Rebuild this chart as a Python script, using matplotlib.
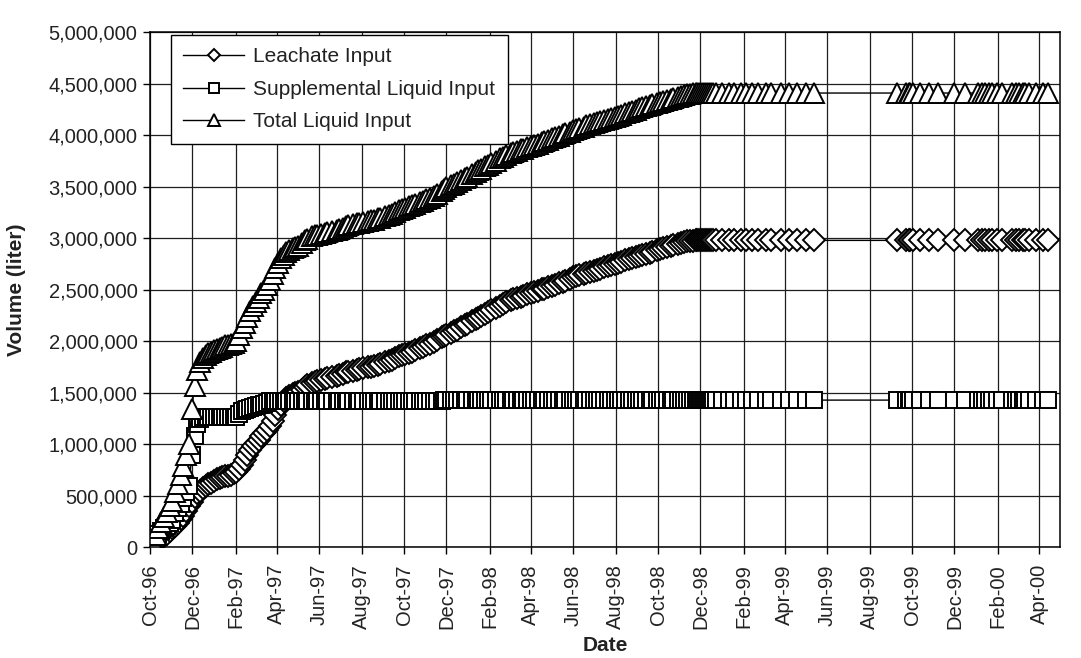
import numpy as np
import matplotlib.pyplot as plt
import matplotlib.dates as mdates
from matplotlib.ticker import MultipleLocator, FuncFormatter

plt.rcParams['font.family'] = ['Liberation Sans', 'DejaVu Sans']

# sampling days, counted from 1 Oct 1996
early_days = [0, 4, 8, 12, 16, 20, 24, 28, 32, 36, 40, 44, 48, 52, 56, 60, 64,
              68, 72, 76, 80, 84, 88, 92, 96, 100, 104, 108, 112, 116, 120,
              124, 128, 132, 136, 140, 144, 148, 152, 156, 160, 164, 168, 172,
              176, 180, 184, 188, 192, 196, 200]
mid_days = [205, 209, 212, 218, 223, 226, 233, 237, 240, 246, 252, 255, 262,
            268, 271, 277, 281, 285, 292, 297, 300, 306, 313, 317, 322, 328,
            331, 337, 343, 347, 352, 358, 362, 366, 372, 376, 381, 388, 392,
            396, 402, 408, 412, 419,
            422, 426, 432, 437, 441, 447, 453, 456, 462, 468, 471, 476, 482,
            486, 490, 497, 503, 507, 512, 518, 521, 527, 533, 536, 542, 548,
            552, 557, 563, 566, 572, 578, 582, 587, 593, 597, 603, 608, 612,
            617, 623, 627, 632, 638, 643, 647, 653, 658, 662, 668, 673, 677,
            683, 688, 692, 698, 703, 707, 713, 718, 722, 728, 733, 737, 743,
            748, 752, 758, 763, 767, 772, 776, 780]
late_days = [784, 786, 789, 792, 794, 797, 800, 803, 806, 809, 813, 822, 832,
             839, 849, 856, 865, 873, 885, 892, 906, 918, 930, 942, 954,
             1073, 1087, 1090, 1092, 1097, 1107, 1119, 1133,
             1156, 1171, 1190, 1195, 1200, 1205, 1210, 1217, 1224, 1239, 1244,
             1249, 1254, 1258, 1263, 1273, 1283, 1290]

# cumulative volumes, thousands of liters
leachate_early = [0, 15, 35, 60, 85, 110, 135, 160, 185, 210, 240, 275, 310,
                  355, 400, 440, 490, 525, 550, 575, 600, 615, 630, 645, 660,
                  670, 680, 690, 698, 706, 718, 735, 765, 805, 850, 895, 945,
                  985, 1015, 1045, 1080, 1110, 1140, 1180, 1230, 1290, 1340,
                  1385, 1420, 1450, 1470]
leachate_mid = [1490, 1500, 1510, 1530, 1560, 1575, 1600, 1610, 1615, 1625,
                1635, 1640, 1650, 1660, 1670, 1685, 1700, 1705, 1715, 1725,
                1730, 1740, 1750, 1755, 1760, 1775, 1780, 1795, 1810, 1820,
                1835, 1855, 1865, 1875, 1890, 1900, 1915, 1935, 1945, 1960,
                1975, 1995, 2010, 2040,
                2050, 2065, 2085, 2100, 2115, 2135, 2155, 2165, 2195, 2215,
                2230, 2245, 2270, 2285, 2300, 2325, 2345, 2360, 2380, 2400,
                2410, 2420, 2435, 2440, 2455, 2470, 2480, 2490, 2505, 2510,
                2525, 2540, 2550, 2565, 2580, 2590, 2605, 2620, 2630, 2640,
                2655, 2665, 2675, 2685, 2695, 2705, 2720, 2730, 2740, 2750,
                2760, 2770, 2785, 2795, 2805, 2820, 2830, 2840, 2850, 2860,
                2870, 2885, 2895, 2905, 2915, 2925, 2935, 2945, 2955, 2962,
                2970, 2975, 2978]
leachate_late = [2980, 2980, 2980, 2980, 2980, 2980, 2980, 2980, 2980, 2980,
                 2980, 2980, 2980, 2980, 2980, 2980, 2980, 2980, 2980, 2980,
                 2980, 2980, 2980, 2980, 2980,
                 2980, 2980, 2980, 2980, 2980, 2980, 2980, 2980,
                 2980, 2980, 2980, 2980, 2980, 2980, 2980, 2980, 2980, 2980,
                 2980, 2980, 2980, 2980, 2980, 2980, 2980, 2980]

supplemental_early = [0, 40, 85, 130, 160, 185, 210, 240, 270, 330, 380, 425,
                      480, 540, 600, 900, 1080, 1200, 1250, 1265, 1270, 1270,
                      1270, 1270, 1270, 1270, 1270, 1270, 1270, 1270, 1270,
                      1270, 1300, 1320, 1330, 1340, 1350, 1360, 1370, 1380,
                      1385, 1390, 1405, 1420, 1420, 1420, 1420, 1420, 1420,
                      1420, 1420]
supplemental_mid = [1420, 1420, 1420, 1420, 1420, 1420, 1420, 1420, 1420, 1420,
                    1420, 1420, 1420, 1420, 1420, 1420, 1420, 1420, 1420, 1420,
                    1420, 1420, 1420, 1420, 1420, 1420, 1420, 1420, 1420, 1420,
                    1420, 1420, 1420, 1420, 1420, 1420, 1420, 1420, 1420, 1420,
                    1420, 1420, 1420, 1420,
                    1430, 1430, 1430, 1430, 1430, 1430, 1430, 1430, 1430, 1430,
                    1430, 1430, 1430, 1430, 1430, 1430, 1430, 1430, 1430, 1430,
                    1430, 1430, 1430, 1430, 1430, 1430, 1430, 1430, 1430, 1430,
                    1430, 1430, 1430, 1430, 1430, 1430, 1430, 1430, 1430, 1430,
                    1430, 1430, 1430, 1430, 1430, 1430, 1430, 1430, 1430, 1430,
                    1430, 1430, 1430, 1430, 1430, 1430, 1430, 1430, 1430, 1430,
                    1430, 1430, 1430, 1430, 1430, 1430, 1430, 1430, 1430, 1430,
                    1430, 1430, 1430]
supplemental_late = [1430, 1430, 1430, 1430, 1430, 1430, 1430, 1430, 1430,
                     1430, 1430, 1430, 1430, 1430, 1430, 1430, 1430, 1430,
                     1430, 1430, 1430, 1430, 1430, 1430, 1430,
                     1430, 1430, 1430, 1430, 1430, 1430, 1430, 1430,
                     1430, 1430, 1430, 1430, 1430, 1430, 1430, 1430, 1430,
                     1430, 1430, 1430, 1430, 1430, 1430, 1430, 1430, 1430]

start = np.datetime64('1996-10-01')
days = np.array(early_days + mid_days + late_days)
dates = start + days.astype('timedelta64[D]')
leachate = np.array(leachate_early + leachate_mid + leachate_late) * 1000.0
supplemental = np.array(supplemental_early + supplemental_mid
                        + supplemental_late) * 1000.0
total = leachate + supplemental

fig = plt.figure(figsize=(10.81, 6.58), dpi=100)
ax = fig.add_axes([0.1388, 0.168, 0.842, 0.783])

style = dict(color='black', lw=1.0, mfc='white', mec='black', mew=1.4)
ax.plot(dates, leachate, marker='D', ms=11, label='Leachate Input', **style)
ax.plot(dates, supplemental, marker='s', ms=12, label='Supplemental Liquid Input', **style)
ax.plot(dates, total, marker='^', ms=15, label='Total Liquid Input', **style)

ax.set_xlim(np.datetime64('1996-10-01'), np.datetime64('2000-05-01'))
ax.set_ylim(0, 5000000)
ax.xaxis.set_major_locator(mdates.MonthLocator(bymonth=[2, 4, 6, 8, 10, 12]))
ax.xaxis.set_major_formatter(mdates.DateFormatter('%b-%y'))
ax.yaxis.set_major_locator(MultipleLocator(500000))
ax.yaxis.set_major_formatter(FuncFormatter(lambda v, p: f'{v:,.0f}'))

ax.grid(True, color='#1e1e1e', lw=0.9)
ax.set_axisbelow(True)
for s in ax.spines.values():
    s.set_color('black')
    s.set_linewidth(1.1)
ax.tick_params(direction='out', length=5, width=1, labelsize=14.5,
               labelcolor='#222222')
ax.tick_params(axis='x', pad=7)
ax.tick_params(axis='y', pad=4)
for lab in ax.get_xticklabels():
    lab.set_rotation(90)

ax.set_xlabel('Date', fontsize=15, fontweight='bold', color='#222222', labelpad=5)
ax.set_ylabel('Volume (liter)', fontsize=15, fontweight='bold', color='#222222',
              labelpad=16)

leg = ax.legend(loc='upper left', bbox_to_anchor=(0.023, 0.995),
                borderaxespad=0, fontsize=15, handlelength=2.9,
                handletextpad=0.45, labelspacing=0.65, borderpad=0.6,
                markerscale=0.6, fancybox=False, framealpha=1,
                edgecolor='black')
leg.get_frame().set_linewidth(1.0)
for t in leg.get_texts():
    t.set_color('#222222')

fig.savefig('out.png', dpi=100)
